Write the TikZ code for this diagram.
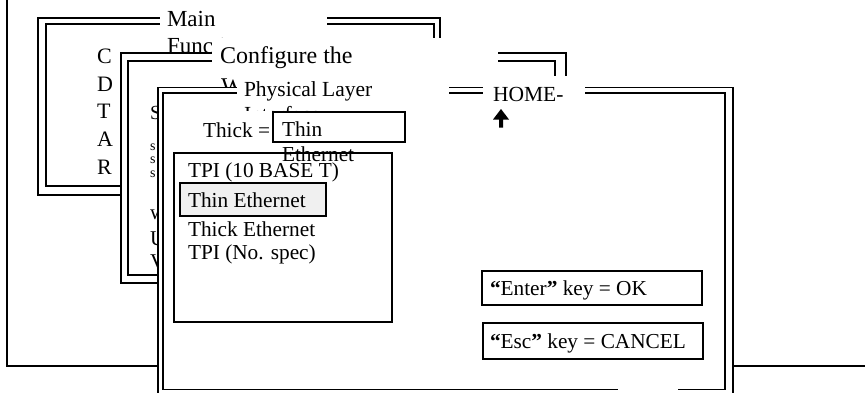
\documentclass[tikz,border=0pt]{standalone}
\usepackage{fontspec}
\setmainfont{Liberation Serif}
\begin{document}
\begin{tikzpicture}[x=1pt,y=-1pt,
  rule/.style={line width=1.9pt},
  boxline/.style={line width=1.6pt},
  lbl/.style={anchor=base west, inner sep=0pt, outer sep=0pt},
  fs/.style={font=\fontsize{#1}{#1}\selectfont},
  sel/.style={boxline, fill=black!6},
]
\clip (0,0) rectangle (865,392);
\fill[white] (0,0) rectangle (865,392);

% outermost screen frame
\draw[rule] (7,-20) rectangle (890,366);

% window 1: main functions
\fill[white] (38,18) rectangle (440,195);
\draw[rule] (38,18) rectangle (440,195);
\draw[rule] (46,24) rectangle (434,186);
\begin{scope}
  \clip (160,6) rectangle (327,60);
  \fill[white] (160,6) rectangle (327,60);
  \node[lbl, fs=23] (w1title) at (167,26) {Main};
  \node[lbl, fs=23] (w1title2) at (167,53) {Functions};
\end{scope}
\node[lbl, fs=22] (mC) at (97,63) {C};
\node[lbl, fs=22] (mD) at (97,91) {D};
\node[lbl, fs=22] (mT) at (97,118.5) {T};
\node[lbl, fs=22] (mA) at (97,146) {A};
\node[lbl, fs=22] (mR) at (97,174) {R};

% window 2: configuration
\fill[white] (121,53) rectangle (566,283);
\draw[rule] (121,53) rectangle (566,283);
\draw[rule] (128,61) rectangle (555,275);
\begin{scope}
  \clip (212,37.5) rectangle (498,100);
  \fill[white] (212,37.5) rectangle (498,100);
  \node[lbl, fs=24] (w2title) at (220,63) {Configure the};
  \node[lbl, fs=24] (w2title2) at (221,94) {W};
\end{scope}
\node[lbl, fs=20] (cS) at (150,119) {S};
\node[lbl, fs=14] (cs1) at (150,150) {s};
\node[lbl, fs=14] (cs2) at (150,163) {s};
\node[lbl, fs=14] (cs3) at (150,177) {s};
\node[lbl, fs=21] (cw) at (150,219) {w};
\node[lbl, fs=21] (cU) at (150,245) {U};
\node[lbl, fs=21] (cV) at (150,268) {V};

% window 3: physical layer interface
\fill[white] (158,87.5) rectangle (733,397);
\draw[rule] (158,87.5) rectangle (733,397);
\draw[rule] (163,93) rectangle (725,389.5);
\begin{scope}
  \clip (237,72) rectangle (449,110);
  \fill[white] (237,72) rectangle (449,110);
  \node[lbl, fs=21.5] (w3title) at (244,96) {Physical Layer};
  \node[lbl, fs=21.5] (w3title2) at (244,121) {Interface};
\end{scope}
\fill[white] (483,76) rectangle (585,104);
\node[lbl, fs=21.5] (home) at (493,101) {HOME-};
\fill (493,119.5) -- (501,109) -- (509,119.5) -- (503,119.5) -- (503,127.5)
  -- (499,127.5) -- (499,119.5) -- cycle;
\fill[white] (618,384) rectangle (678,397);

% current setting
\node[lbl, fs=21.3] (thick) at (203,137) {Thick =};
\draw[boxline] (273,112) rectangle (405,142);
\node[lbl, fs=21.3] (cur1) at (282,136) {Thin};
\node[lbl, fs=21.3] (cur2) at (282,161) {Ethernet};

% list of choices
\draw[boxline] (174,153) rectangle (392,322);
\draw[sel] (180,183) rectangle (326,216);
\node[lbl, fs=21.3] (opt1) at (188,177) {TPI (10 BASE T)};
\node[lbl, fs=21.3] (opt2) at (188,207) {Thin Ethernet};
\node[lbl, fs=21.3] (opt3) at (188,236) {Thick Ethernet};
\node[lbl, fs=21.3] (opt4) at (188,259) {TPI (No. spec)};

% key hints
\draw[boxline] (482,271) rectangle (702,305);
\node[lbl, fs=21.3] (enter) at (490,295) {{\bfseries “}Enter{\bfseries ”} key = OK};
\draw[boxline] (483,323) rectangle (703,359);
\node[lbl, fs=21.3] (esc) at (490,348) {{\bfseries “}Esc{\bfseries ”} key = CANCEL};
\end{tikzpicture}
\end{document}
